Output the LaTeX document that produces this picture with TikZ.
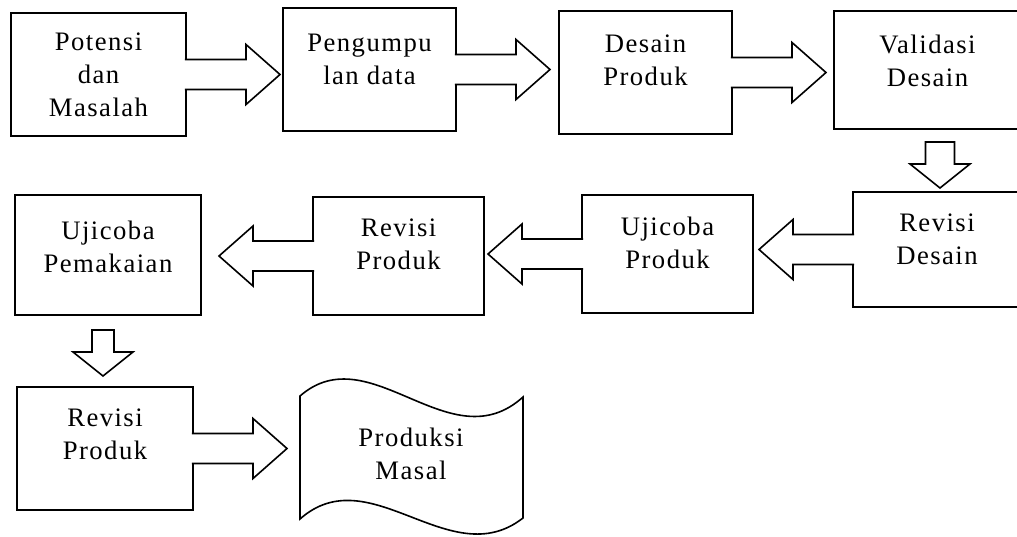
\documentclass[tikz,border=0pt]{standalone}
\usepackage{fontspec}
\setmainfont{Liberation Serif}[LetterSpace=5.5]
\usepackage{tikz}
\usetikzlibrary{positioning}
\usetikzlibrary{calc}
\tikzset{
  box/.style={rectangle,draw,line width=1.2pt,inner sep=0pt,outer sep=0pt},
  lbl/.style={align=center,inner sep=0pt,font=\fontsize{20}{24.75}\selectfont},
  arrowline/.style={draw,line width=1.2pt,fill=white,line join=miter},
  pics/fatarrow/.style={code={
    \draw[arrowline] (-1.2,-15) -- (60,-15) -- (60,-30) -- (94,0) -- (60,30) -- (60,15) -- (-1.2,15);
  }},
  pics/downarrow/.style={code={
    \draw[arrowline] (-#1,0) -- (#1,0) -- (#1,22) -- (30,22) -- (0,46) -- (-30,22) -- (-#1,22) -- cycle;
  }},
}

\begin{document}
\begin{tikzpicture}[x=0.75pt,y=-0.75pt]
    \useasboundingbox (0,0) rectangle (1017,536);
    \clip (0,0) rectangle (1017,536);
    \node at (98.5,74.5) [box,minimum width=131.25pt,minimum height=92.25pt] (potensi) {};
    \node at (369.5,69.5) [box,minimum width=129.75pt,minimum height=92.25pt] (pengumpulan) {};
    \node at (645.5,72.5) [box,minimum width=129.75pt,minimum height=92.25pt] (desain) {};
    \node at (927.5,70) [box,minimum width=140.25pt,minimum height=88.5pt] (validasi) {};
    \node at (937,249.5) [box,minimum width=126pt,minimum height=86.25pt] (revdesain) {};
    \node at (667.5,254) [box,minimum width=128.25pt,minimum height=88.5pt] (ujiproduk) {};
    \node at (398.5,256) [box,minimum width=128.25pt,minimum height=88.5pt] (revproduk) {};
    \node at (108,255) [box,minimum width=139.5pt,minimum height=90pt] (ujipakai) {};
    \node at (105,448.5) [box,minimum width=132pt,minimum height=92.25pt] (revproduk2) {};
    \draw [box] (300,396) .. controls (370,335) and (450,463) .. (523,397) -- (523,518)
      .. controls (450,575) and (370,457) .. (300,519) -- cycle;

    \node [lbl,below=15pt of potensi.north] (potensi_txt) {Potensi\\dan\\Masalah};
    \node [lbl,below=19pt of pengumpulan.north] (pengumpulan_txt) {Pengumpu\\lan data};
    \node [lbl,below=18pt of desain.north] (desain_txt) {Desain\\Produk};
    \node [lbl,below=18pt of validasi.north] (validasi_txt) {Validasi\\Desain};
    \node [lbl,below=16pt of revdesain.north] (revdesain_txt) {Revisi\\Desain};
    \node [lbl,below=16.5pt of ujiproduk.north] (ujiproduk_txt) {Ujicoba\\Produk};
    \node [lbl,below=16pt of revproduk.north] (revproduk_txt) {Revisi\\Produk};
    \node [lbl,below=19pt of ujipakai.north] (ujipakai_txt) {Ujicoba\\Pemakaian};
    \node [lbl,below=16.5pt of revproduk2.north] (revproduk2_txt) {Revisi\\Produk};
    \node at (411,428) [lbl,anchor=north] (produksi) {Produksi\\Masal};

    \pic at (potensi.east) {fatarrow};
    \pic at (pengumpulan.east) {fatarrow};
    \pic at (desain.east) {fatarrow};
    \pic at ($(revdesain.north)+(3,-50)$) {downarrow=14.5};
    \pic [rotate=180] at (revdesain.west) {fatarrow};
    \pic [rotate=180] at (ujiproduk.west) {fatarrow};
    \pic [rotate=180] at (revproduk.west) {fatarrow};
    \pic at ($(revproduk2.north)+(-2,-57)$) {downarrow=11};
    \pic at (revproduk2.east) {fatarrow};
  \end{tikzpicture}
\end{document}
